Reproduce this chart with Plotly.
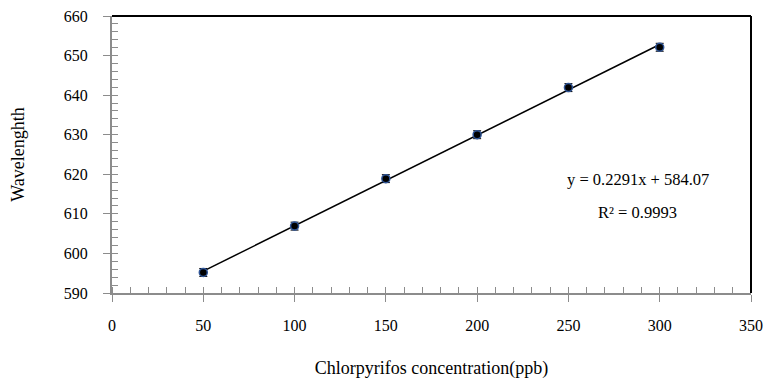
import plotly.graph_objects as go

concentration = [50, 100, 150, 200, 250, 300]
wavelength = [595.2, 606.9, 618.9, 630.0, 641.9, 652.1]
error = [1.0, 1.0, 1.0, 1.0, 1.0, 1.0]
slope = 0.2291
intercept = 584.07
eq_text = "y = 0.2291x + 584.07"
r2_text = "R² = 0.9993"

fit_x = [concentration[0], concentration[-1]]
fit_y = [slope * v + intercept for v in fit_x]

FONT = "Liberation Serif, Times New Roman, serif"

fig = go.Figure()
fig.add_trace(go.Scatter(x=fit_x, y=fit_y, mode="lines",
                         line=dict(color="black", width=1.5), showlegend=False))
fig.add_trace(go.Scatter(
    x=concentration, y=wavelength, mode="markers",
    marker=dict(color="black", size=8, line=dict(color="#2f5597", width=1.5)),
    error_y=dict(type="data", array=error, visible=True, color="black",
                 thickness=1, width=4),
    showlegend=False))

axis_common = dict(
    showgrid=False, zeroline=False, showline=True, linecolor="#8c8c8c",
    linewidth=2, ticks="outside", ticklen=7, tickwidth=1, tickcolor="#8c8c8c",
    tickfont=dict(family=FONT, size=16, color="black"), automargin=False,
    ticklabeloverflow="allow",
)
fig.update_xaxes(range=[0, 350], dtick=50, tick0=0,
                 minor=dict(ticks="inside", dtick=10, ticklen=6, tickcolor="#8c8c8c", tickwidth=1),
                 ticklabelstandoff=10,
                 title=dict(text="Chlorpyrifos concentration(ppb)", font=dict(family=FONT, size=18, color="black"), standoff=28),
                 **axis_common)
fig.update_yaxes(range=[590, 660], dtick=10, tick0=590,
                 minor=dict(ticks="inside", dtick=2, ticklen=6, tickcolor="#8c8c8c", tickwidth=1),
                 ticklabelstandoff=12,
                 title=dict(text="Wavelenghth", font=dict(family=FONT, size=18, color="black"), standoff=34),
                 **axis_common)

fig.add_shape(type="line", xref="paper", yref="paper", x0=0, x1=1, y0=1, y1=1,
              line=dict(color="black", width=2))
fig.add_shape(type="line", xref="paper", yref="paper", x0=1, x1=1, y0=0, y1=1,
              line=dict(color="black", width=2))

fig.add_annotation(x=0.823, y=0.411, xref="paper", yref="paper", text=eq_text,
                   xanchor="center", yanchor="middle",
                   showarrow=False, font=dict(family=FONT, size=16.5, color="black"))
fig.add_annotation(x=0.823, y=0.292, xref="paper", yref="paper", text=r2_text,
                   xanchor="center", yanchor="middle",
                   showarrow=False, font=dict(family=FONT, size=16.5, color="black"))

fig.update_layout(width=765, height=381, margin=dict(l=112, r=14, t=16, b=88),
                  plot_bgcolor="white", paper_bgcolor="white")
fig.write_html("out.html", config={"displayModeBar": False},
               post_script="document.body.style.margin='0';document.body.style.overflow='hidden';")
